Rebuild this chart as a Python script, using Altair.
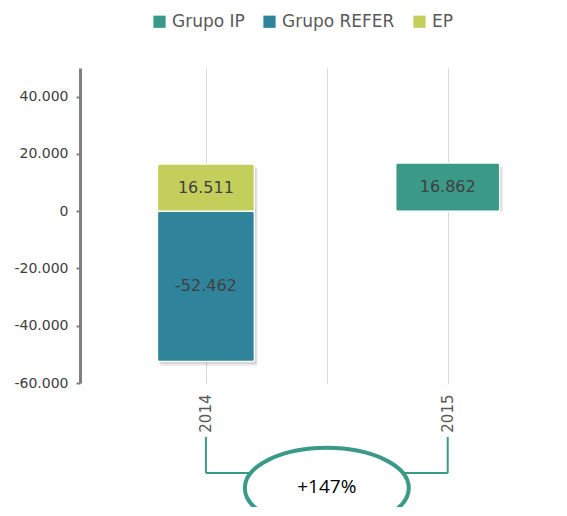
import altair as alt
import pandas as pd

# ---- data ----
years = ["2014", "2014", "2015"]
series = ["Grupo REFER", "EP", "Grupo IP"]
values = [-52462, 16511, 16862]
legend_order = ["Grupo IP", "Grupo REFER", "EP"]
colors = ["#3b9a87", "#2f849c", "#c4cf5b"]
y_ticks = [-60000, -40000, -20000, 0, 20000, 40000]
x_labels = ["2014", "2015"]
change_label = "+147%"

FONT = "DejaVu Sans"
TEAL = "#3b9a87"

df = pd.DataFrame({"year": years, "series": series, "value": values})
df["pos"] = df["year"].map({y: i for i, y in enumerate(x_labels)})
df["mid"] = df["value"] / 2
df["label"] = [f"{v:,}".replace(",", ".") for v in values]

x_scale = alt.Scale(domain=[-0.5, 1.423], nice=False, zero=False)
y_scale = alt.Scale(domain=[-60000, 50000], nice=False)

label_expr_x = " : ".join(
    [f"datum.value == {i} ? '{lab}'" for i, lab in enumerate(x_labels)]
) + " : ''"

x_enc = alt.X(
    "pos:Q",
    scale=x_scale,
    title=None,
    axis=alt.Axis(
        values=[0, 0.5, 1],
        labelExpr=label_expr_x,
        grid=True,
        gridColor="#d9d9d9",
        gridWidth=1,
        domain=False,
        ticks=False,
        labelAngle=270,
        labelFont=FONT,
        labelFontSize=15,
        labelColor="#595959",
        labelPadding=11,
    ),
)

y_enc = alt.Y(
    "value:Q",
    scale=y_scale,
    stack=None,
    title=None,
    axis=alt.Axis(
        values=y_ticks,
        labelExpr="(datum.value < 0 ? '-' : '') + replace(format(abs(datum.value), ','), ',', '.')",
        grid=False,
        domainColor="#7f7f7f",
        domainWidth=3,
        tickColor="#7f7f7f",
        tickWidth=2,
        tickSize=4,
        labelFont=FONT,
        labelFontSize=14,
        labelColor="#404040",
        labelPadding=8,
    ),
)

bar_size = alt.condition("datum.year == '2015'", alt.value(104), alt.value(97))

base = alt.Chart(df)

shadow1 = base.mark_bar(
    color="black", opacity=0.10, xOffset=3, x2Offset=3, yOffset=4, y2Offset=4
).encode(x=x_enc, y=y_enc, size=bar_size)
shadow2 = base.mark_bar(
    color="black", opacity=0.10, xOffset=1.5, x2Offset=1.5, yOffset=2, y2Offset=2
).encode(x=x_enc, y=y_enc, size=bar_size)

bars = base.mark_bar(stroke="white", strokeWidth=1.5, cornerRadius=2).encode(
    x=x_enc,
    y=y_enc,
    size=bar_size,
    color=alt.Color(
        "series:N",
        scale=alt.Scale(domain=legend_order, range=colors),
        legend=alt.Legend(
            orient="none",
            legendX=71,
            legendY=-55,
            direction="horizontal",
            title=None,
            symbolType="square",
            symbolSize=150,
            symbolStrokeWidth=0,
            labelFont=FONT,
            labelFontSize=17,
            labelColor="#595959",
            labelOffset=4,
            columnPadding=16,
        ),
    ),
)

labels = base.mark_text(font=FONT, fontSize=16, color="#404040", baseline="middle").encode(
    x="pos:Q", y="mid:Q", text="label:N"
)

# ---- annotation below the axis: bracket + ellipse with change label ----
ann = pd.DataFrame({"a": [0], "b": [1], "m": [0.5], "t": [change_label]})
ann_base = alt.Chart(ann)
left_v = ann_base.mark_rule(color=TEAL, strokeWidth=2).encode(
    x="a:Q", y=alt.value(369), y2=alt.value(405)
)
right_v = ann_base.mark_rule(color=TEAL, strokeWidth=2).encode(
    x="b:Q", y=alt.value(369), y2=alt.value(405)
)
horiz = ann_base.mark_rule(color=TEAL, strokeWidth=2).encode(
    x="a:Q", x2="b:Q", y=alt.value(405)
)
ellipse = ann_base.mark_point(
    shape="M -1 0 A 1 0.49 0 1 1 1 0 A 1 0.49 0 1 1 -1 0 Z",
    size=164 * 164,
    filled=False,
    fill="white",
    fillOpacity=1,
    stroke=TEAL,
    strokeWidth=4,
    opacity=1,
).encode(x="m:Q", y=alt.value(420))
ell_text = ann_base.mark_text(
    font="Open Sans", fontSize=19, color="black", baseline="middle"
).encode(x="m:Q", y=alt.value(419), text="t:N")

chart = alt.layer(
    shadow1, shadow2, bars, labels, left_v, right_v, horiz, ellipse, ell_text
).resolve_scale(x="shared", y="shared").properties(
    width=475,
    height=315,
    autosize=alt.AutoSizeParams(type="none"),
    padding={"left": 72, "top": 60, "right": 4, "bottom": 124},
).configure_view(stroke=None)

chart.save("out.html", embed_options={"renderer": "svg", "actions": False})
